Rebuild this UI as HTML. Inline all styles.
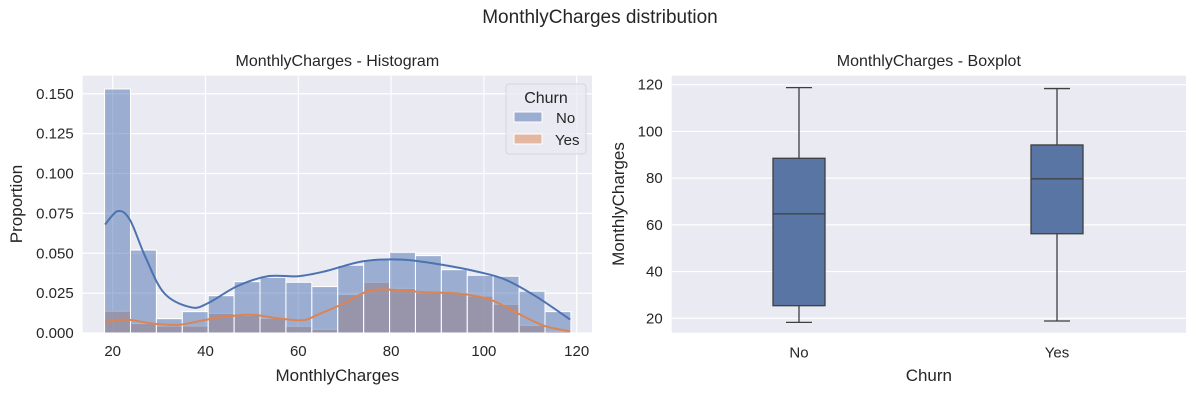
<!DOCTYPE html>
<html><head><meta charset="utf-8"><style>
html,body{margin:0;padding:0;background:#fff;}
svg{display:block;font-family:"Liberation Sans","DejaVu Sans",sans-serif;}
</style></head><body>
<svg id="fig" width="1200" height="400" viewBox="0 0 1200 400" xmlns="http://www.w3.org/2000/svg">
<text x="600" y="23" text-anchor="middle" font-size="19" fill="#262626">MonthlyCharges distribution</text>
<g id="left"></g>
<g id="right"></g>
</svg>
<script>
// Histogram data
const binStart = 18.25;
const binWidth = 5.5833;
const noProps = [0.153,0.052,0.0090,0.0134,0.0234,0.0322,0.0349,0.0318,0.0291,0.0425,0.0462,0.0506,0.0485,0.0397,0.0362,0.0356,0.0262,0.0134];
const yesProps = [0.0136,0.0059,0.0044,0.0044,0.0123,0.0111,0.0092,0.0042,0.0023,0.0241,0.0318,0.0280,0.0253,0.0253,0.0232,0.0180,0.0048,0.0010];
const kdeNoX = [18.35,21.1,23.7,27.0,31.1,36.9,40.6,46.8,53.4,60.0,65.8,74.0,82.3,90.5,98.8,104.6,111.2,118.6];
const kdeNoY = [0.068,0.0764,0.071,0.048,0.025,0.0161,0.0188,0.0293,0.0356,0.0356,0.0387,0.045,0.046,0.043,0.0383,0.0335,0.023,0.0084];
const kdeYesX = [18.35,22.9,28.7,34.5,41.1,49.4,55.1,60.9,64.2,70.0,74.9,79.9,86.5,94.8,101.4,107.1,112.9,118.6];
const kdeYesY = [0.0067,0.0084,0.0059,0.0052,0.0088,0.0115,0.0094,0.008,0.0115,0.0188,0.0261,0.0272,0.0257,0.0247,0.0209,0.0126,0.0046,0.001];
const histXTicks = [20,40,60,80,100,120];
const histYTicks = [0,0.025,0.05,0.075,0.1,0.125,0.15];
const histYLabels = ["0.000","0.025","0.050","0.075","0.100","0.125","0.150"];
// Boxplot data
const boxCats = ["No","Yes"];
const boxLow = [18.25,18.85];
const boxQ1 = [25.4,56.2];
const boxMed = [64.7,79.7];
const boxQ3 = [88.5,94.2];
const boxHigh = [118.75,118.35];
const boxYTicks = [20,40,60,80,100,120];

const NS="http://www.w3.org/2000/svg";
function mk(parent,tag,attrs,text){const e=document.createElementNS(NS,tag);for(const k in attrs)e.setAttribute(k,attrs[k]);if(text!==undefined)e.textContent=text;parent.appendChild(e);return e;}

// ---- Left: histogram ----
const L=document.getElementById('left');
const lx0=82.7,lx1=592,ly0=75.7,ly1=333;
const hx=v=>112.7+(v-20)*4.64;
const hy=v=>333-v*1595;
let e=mk(L,'rect',{x:lx0,y:ly0,width:lx1-lx0,height:ly1-ly0,fill:'#eaeaf2'});


histXTicks.forEach(t=>{
  let g=mk(L,'line',{x1:hx(t),x2:hx(t),y1:ly0,y2:ly1,stroke:'#fff','stroke-width':1.2});
  
  
  let tl=mk(L,'text',{x:hx(t),y:ly1+23,'text-anchor':'middle','font-size':15,fill:'#262626'},String(t));
  
  
});
histYTicks.forEach((t,i)=>{
  let g=mk(L,'line',{x1:lx0,x2:lx1,y1:hy(t),y2:hy(t),stroke:'#fff','stroke-width':1.2});
  
  
  let tl=mk(L,'text',{x:lx0-9,y:hy(t)+5,'text-anchor':'end','font-size':15,fill:'#262626'},histYLabels[i]);
  
  
});
yesProps.forEach((v,i)=>{
  const a=binStart+i*binWidth;
  let b=mk(L,'rect',{x:hx(a),y:hy(v),width:hx(a+binWidth)-hx(a),height:hy(0)-hy(v),fill:'rgba(221,132,82,0.5)',stroke:'#fff','stroke-width':1});
  
  
});
noProps.forEach((v,i)=>{
  const a=binStart+i*binWidth;
  let b=mk(L,'rect',{x:hx(a),y:hy(v),width:hx(a+binWidth)-hx(a),height:hy(0)-hy(v),fill:'rgba(76,114,176,0.5)',stroke:'#fff','stroke-width':1});
  
  
});
function smooth(xs,ys){
  const p=xs.map((x,i)=>[hx(x),hy(ys[i])]);
  let d='M'+p[0][0]+','+p[0][1];
  for(let i=0;i<p.length-1;i++){
    const p0=p[i-1]||p[i],p1=p[i],p2=p[i+1],p3=p[i+2]||p2;
    const c1=[p1[0]+(p2[0]-p0[0])/6,p1[1]+(p2[1]-p0[1])/6];
    const c2=[p2[0]-(p3[0]-p1[0])/6,p2[1]-(p3[1]-p1[1])/6];
    d+=' C'+c1+' '+c2+' '+p2;
  }
  return d;
}
e=mk(L,'path',{d:smooth(kdeNoX,kdeNoY),fill:'none',stroke:'#4c72b0','stroke-width':2});


e=mk(L,'path',{d:smooth(kdeYesX,kdeYesY),fill:'none',stroke:'#dd8452','stroke-width':2});


// legend
const lg=mk(L,'g',{});


mk(lg,'rect',{x:506,y:84,width:80,height:70,rx:3,fill:'rgba(234,234,242,0.8)',stroke:'#d5d5dc'});
mk(lg,'text',{x:546,y:103,'text-anchor':'middle','font-size':16,fill:'#262626'},'Churn');
let le=mk(lg,'rect',{x:514,y:112,width:28,height:10,fill:'rgba(76,114,176,0.5)',stroke:'#fff'});


mk(lg,'text',{x:556,y:123,'font-size':15,fill:'#262626'},'No');
le=mk(lg,'rect',{x:514,y:134,width:28,height:10,fill:'rgba(221,132,82,0.5)',stroke:'#fff'});


mk(lg,'text',{x:555,y:145,'font-size':15,fill:'#262626'},'Yes');
e=mk(L,'text',{x:(lx0+lx1)/2,y:66,'text-anchor':'middle','font-size':16,fill:'#262626'},'MonthlyCharges - Histogram');


e=mk(L,'text',{x:(lx0+lx1)/2,y:381,'text-anchor':'middle','font-size':17,fill:'#262626'},'MonthlyCharges');


e=mk(L,'text',{x:0,y:0,'text-anchor':'middle','font-size':17,fill:'#262626',transform:'translate(22,204) rotate(-90)'},'Proportion');



// ---- Right: boxplot ----
const R=document.getElementById('right');
const rx0=671.7,rx1=1186,ry0=75.7,ry1=332.7;
const bx=i=>799+i*258;
const by=v=>318.3-(v-20)*2.336;
e=mk(R,'rect',{x:rx0,y:ry0,width:rx1-rx0,height:ry1-ry0,fill:'#eaeaf2'});


boxYTicks.forEach(t=>{
  let g=mk(R,'line',{x1:rx0,x2:rx1,y1:by(t),y2:by(t),stroke:'#fff','stroke-width':1.2});
  
  
  let tl=mk(R,'text',{x:rx0-9,y:by(t)+5,'text-anchor':'end','font-size':15,fill:'#262626'},String(t));
  
  
});
boxCats.forEach((c,i)=>{
  const cx=bx(i),w=52;
  const g=mk(R,'g',{});
  
  
  mk(g,'line',{x1:cx,x2:cx,y1:by(boxLow[i]),y2:by(boxQ1[i]),stroke:'#3f3f3f','stroke-width':1.3});
  mk(g,'line',{x1:cx,x2:cx,y1:by(boxHigh[i]),y2:by(boxQ3[i]),stroke:'#3f3f3f','stroke-width':1.3});
  mk(g,'line',{x1:cx-13,x2:cx+13,y1:by(boxLow[i]),y2:by(boxLow[i]),stroke:'#3f3f3f','stroke-width':1.3});
  mk(g,'line',{x1:cx-13,x2:cx+13,y1:by(boxHigh[i]),y2:by(boxHigh[i]),stroke:'#3f3f3f','stroke-width':1.3});
  mk(g,'rect',{x:cx-w/2,y:by(boxQ3[i]),width:w,height:by(boxQ1[i])-by(boxQ3[i]),fill:'#5875a4',stroke:'#3f3f3f','stroke-width':1.3});
  mk(g,'line',{x1:cx-w/2,x2:cx+w/2,y1:by(boxMed[i]),y2:by(boxMed[i]),stroke:'#3f3f3f','stroke-width':1.3});
  let tl=mk(R,'text',{x:cx,y:ry1+25,'text-anchor':'middle','font-size':15,fill:'#262626'},c);
  
  
});
e=mk(R,'text',{x:(rx0+rx1)/2,y:66,'text-anchor':'middle','font-size':16,fill:'#262626'},'MonthlyCharges - Boxplot');


e=mk(R,'text',{x:(rx0+rx1)/2,y:381,'text-anchor':'middle','font-size':17,fill:'#262626'},'Churn');


e=mk(R,'text',{x:0,y:0,'text-anchor':'middle','font-size':17,fill:'#262626',transform:'translate(624,204) rotate(-90)'},'MonthlyCharges');


</script>
</body></html>
